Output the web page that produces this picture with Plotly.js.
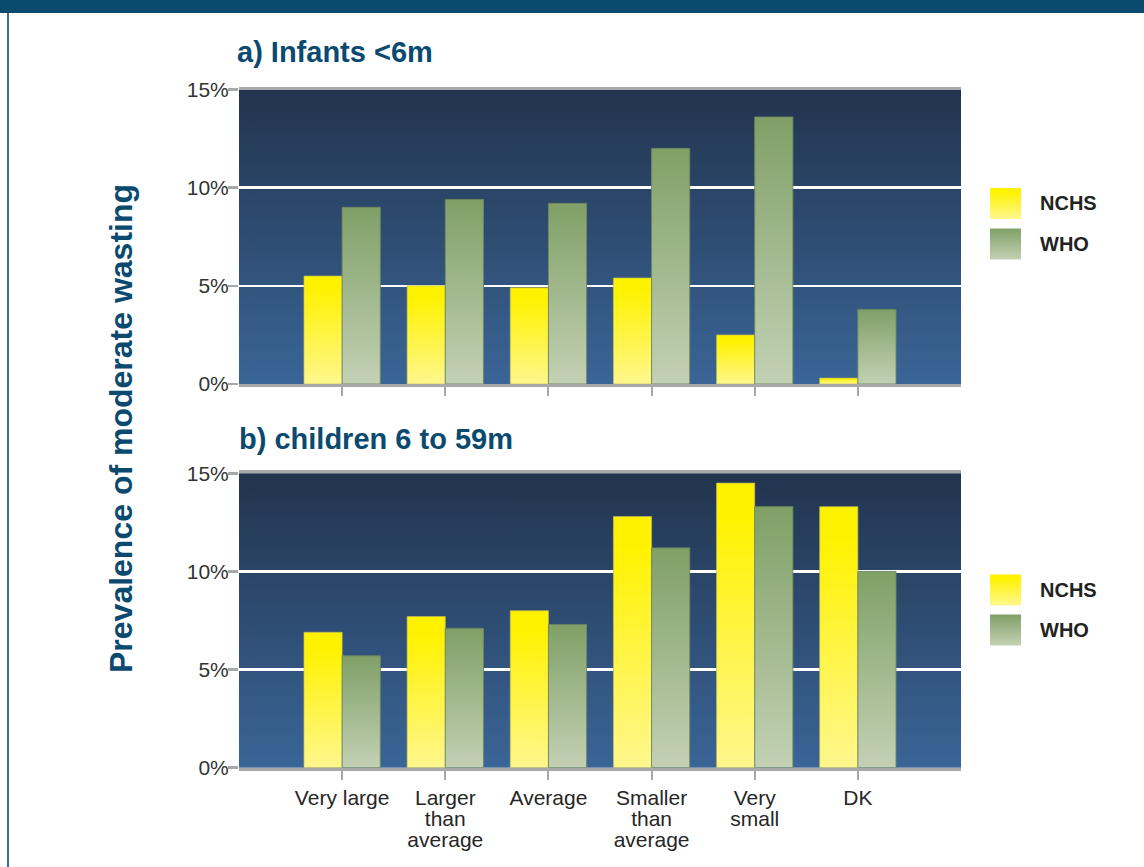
<!DOCTYPE html>
<html>
<head>
<meta charset="utf-8">
<script src="https://cdn.plot.ly/plotly-3.0.1.min.js"></script>
<style>
  html, body { margin: 0; padding: 0; background: #ffffff; overflow: hidden; }
  #chart { width: 1144px; height: 867px; }
</style>
</head>
<body>
<svg width="0" height="0" style="position:absolute">
  <defs>
    <linearGradient id="gNCHS" x1="0" y1="0" x2="0" y2="1">
      <stop offset="0" stop-color="#fff200"/>
      <stop offset="0.12" stop-color="#fff200"/>
      <stop offset="1" stop-color="#fff78e"/>
    </linearGradient>
    <linearGradient id="gWHO" x1="0" y1="0" x2="0" y2="1">
      <stop offset="0" stop-color="#80a067"/>
      <stop offset="1" stop-color="#c3d1b4"/>
    </linearGradient>
    <linearGradient id="gBG" x1="0" y1="0" x2="0" y2="1">
      <stop offset="0" stop-color="#22344e"/>
      <stop offset="1" stop-color="#3a6597"/>
    </linearGradient>
  </defs>
</svg>
<div id="chart"></div>
<script>
// ---- data ----
const categories = ['Very large', 'Larger than average', 'Average', 'Smaller than average', 'Very small', 'DK'];
const categoryLabels = ['Very large', 'Larger<br>than<br>average', 'Average', 'Smaller<br>than<br>average', 'Very<br>small', 'DK'];
const infantsNCHS = [5.5, 5.0, 4.9, 5.4, 2.5, 0.3];
const infantsWHO = [9.0, 9.4, 9.2, 12.0, 13.6, 3.8];
const childrenNCHS = [6.9, 7.7, 8.0, 12.8, 14.5, 13.3];
const childrenWHO = [5.7, 7.1, 7.3, 11.2, 13.3, 10.0];
const yTickVals = [0, 5, 10, 15];
const yTickText = ['0%', '5%', '10%', '15%'];
const seriesNames = ['NCHS', 'WHO'];
const panelTitles = ['a) Infants &lt;6m', 'b) children 6 to 59m'];
const yTitle = 'Prevalence of moderate wasting';

// ---- styling ----
const W = 1144, H = 867;
const px = x => x / W;
const py = y => 1 - y / H;
const FONT = 'Liberation Sans, Arial, Helvetica, sans-serif';
const NCHS_COLOR = 'rgb(255,242,0)';   // replaced by gradient
const WHO_COLOR = 'rgb(131,161,106)';  // replaced by gradient
const BG_COLOR = 'rgb(46,76,114)';     // replaced by gradient
const TITLE_COLOR = '#0b4a6f';
const AXIS_GRAY = '#a8a8a8';

function barTrace(vals, name, color, lineColor, xa, ya) {
  return {
    type: 'bar', x: categories, y: vals, name: name,
    xaxis: xa, yaxis: ya, showlegend: false, hoverinfo: 'skip',
    marker: { color: color, line: { color: lineColor, width: 1 } }
  };
}

const data = [
  barTrace(infantsNCHS, seriesNames[0], NCHS_COLOR, 'rgba(190,185,90,0.7)', 'x', 'y'),
  barTrace(infantsWHO, seriesNames[1], WHO_COLOR, 'rgba(110,135,95,0.9)', 'x', 'y'),
  barTrace(childrenNCHS, seriesNames[0], NCHS_COLOR, 'rgba(190,185,90,0.7)', 'x2', 'y2'),
  barTrace(childrenWHO, seriesNames[1], WHO_COLOR, 'rgba(110,135,95,0.9)', 'x2', 'y2')
];

const xDomain = [px(239), px(961)];
function xAxis(anchor, showLabels) {
  return {
    domain: xDomain, anchor: anchor, type: 'category', range: [-1, 6],
    showline: true, linecolor: AXIS_GRAY, linewidth: 3, mirror: true,
    ticks: 'outside', ticklen: 9, tickwidth: 2, tickcolor: AXIS_GRAY,
    showgrid: false, zeroline: false, fixedrange: true,
    showticklabels: showLabels,
    tickmode: 'array', tickvals: categories, ticktext: categoryLabels,
    tickfont: { family: FONT, size: 21, color: '#262626' },
    automargin: false
  };
}
function yAxis(anchor, dom) {
  return {
    domain: dom, anchor: anchor, range: [0, 15],
    tickmode: 'array', tickvals: yTickVals, ticktext: yTickText,
    ticks: 'outside', ticklen: 10, tickwidth: 2.5, tickcolor: AXIS_GRAY,
    ticklabelstandoff: -5,
    showgrid: true, gridcolor: '#ffffff', gridwidth: 2.5,
    showline: false, zeroline: false, fixedrange: true,
    tickfont: { family: FONT, size: 21, color: '#333333' },
    automargin: false
  };
}

const shapes = [
  { type: 'rect', xref: 'paper', yref: 'paper', x0: 0, x1: 1, y0: py(13), y1: 1,
    fillcolor: '#0a4a6e', line: { width: 0 } },
  { type: 'line', xref: 'paper', yref: 'paper', x0: px(8), x1: px(8), y0: 0, y1: py(13),
    line: { color: '#3a6f9c', width: 2 } }
];
const annotations = [
  { text: '<b>' + panelTitles[0] + '</b>', xref: 'paper', yref: 'paper', x: px(235), y: py(52),
    xanchor: 'left', yanchor: 'middle', showarrow: false,
    font: { family: FONT, size: 29, color: TITLE_COLOR } },
  { text: '<b>' + panelTitles[1] + '</b>', xref: 'paper', yref: 'paper', x: px(237), y: py(439),
    xanchor: 'left', yanchor: 'middle', showarrow: false,
    font: { family: FONT, size: 29, color: TITLE_COLOR } },
  { text: '<b>' + yTitle + '</b>', xref: 'paper', yref: 'paper', x: px(121), y: py(429),
    xanchor: 'center', yanchor: 'middle', showarrow: false, textangle: -90,
    font: { family: FONT, size: 32, color: TITLE_COLOR } }
];

// custom legends (one per panel)
const legendRows = [[203.5, 244], [590, 630]];
legendRows.forEach(rows => {
  rows.forEach((cy, i) => {
    shapes.push({ type: 'rect', xref: 'paper', yref: 'paper',
      x0: px(990), x1: px(1021), y0: py(cy + 15.5), y1: py(cy - 15.5),
      fillcolor: i === 0 ? NCHS_COLOR : WHO_COLOR, line: { width: 0 } });
    annotations.push({ text: '<b>' + seriesNames[i] + '</b>', xref: 'paper', yref: 'paper',
      x: px(1038), y: py(cy), xanchor: 'left', yanchor: 'middle', showarrow: false,
      font: { family: FONT, size: 20, color: '#222222' } });
  });
});

const layout = {
  width: W, height: H,
  margin: { l: 0, r: 0, t: 0, b: 0, pad: 0 },
  paper_bgcolor: '#ffffff', plot_bgcolor: BG_COLOR,
  barmode: 'group', bargap: 0.26, bargroupgap: 0,
  showlegend: false,
  font: { family: FONT },
  xaxis: xAxis('y', false),
  yaxis: yAxis('x', [py(384), py(89.5)]),
  xaxis2: xAxis('y2', true),
  yaxis2: yAxis('x2', [py(767.7), py(473.3)]),
  shapes: shapes,
  annotations: annotations
};

const gradMap = {
  'rgb(255, 242, 0)': 'gNCHS',
  'rgb(131, 161, 106)': 'gWHO',
  'rgb(46, 76, 114)': 'gBG'
};
function decorate(gd) {
  gd.querySelectorAll('path, rect').forEach(el => {
    const f = el.style.fill;
    if (gradMap[f]) el.style.fill = 'url(#' + gradMap[f] + ')';
  });
  gd.querySelectorAll('g.x2tick text tspan.line, g.xtick text tspan.line').forEach(t => {
    const dy = parseFloat(t.getAttribute('dy') || '0');
    if (dy > 0 && !t.dataset.fixed) {
      t.setAttribute('dy', (dy / 1.3 * 1.0) + 'em');
      t.dataset.fixed = '1';
    }
  });
}

const gd = document.getElementById('chart');
Plotly.newPlot(gd, data, layout, { staticPlot: true, displayModeBar: false }).then(() => {
  decorate(gd);
  if (gd.on) gd.on('plotly_afterplot', () => decorate(gd));
  setTimeout(() => decorate(gd), 50);
});
</script>
</body>
</html>
